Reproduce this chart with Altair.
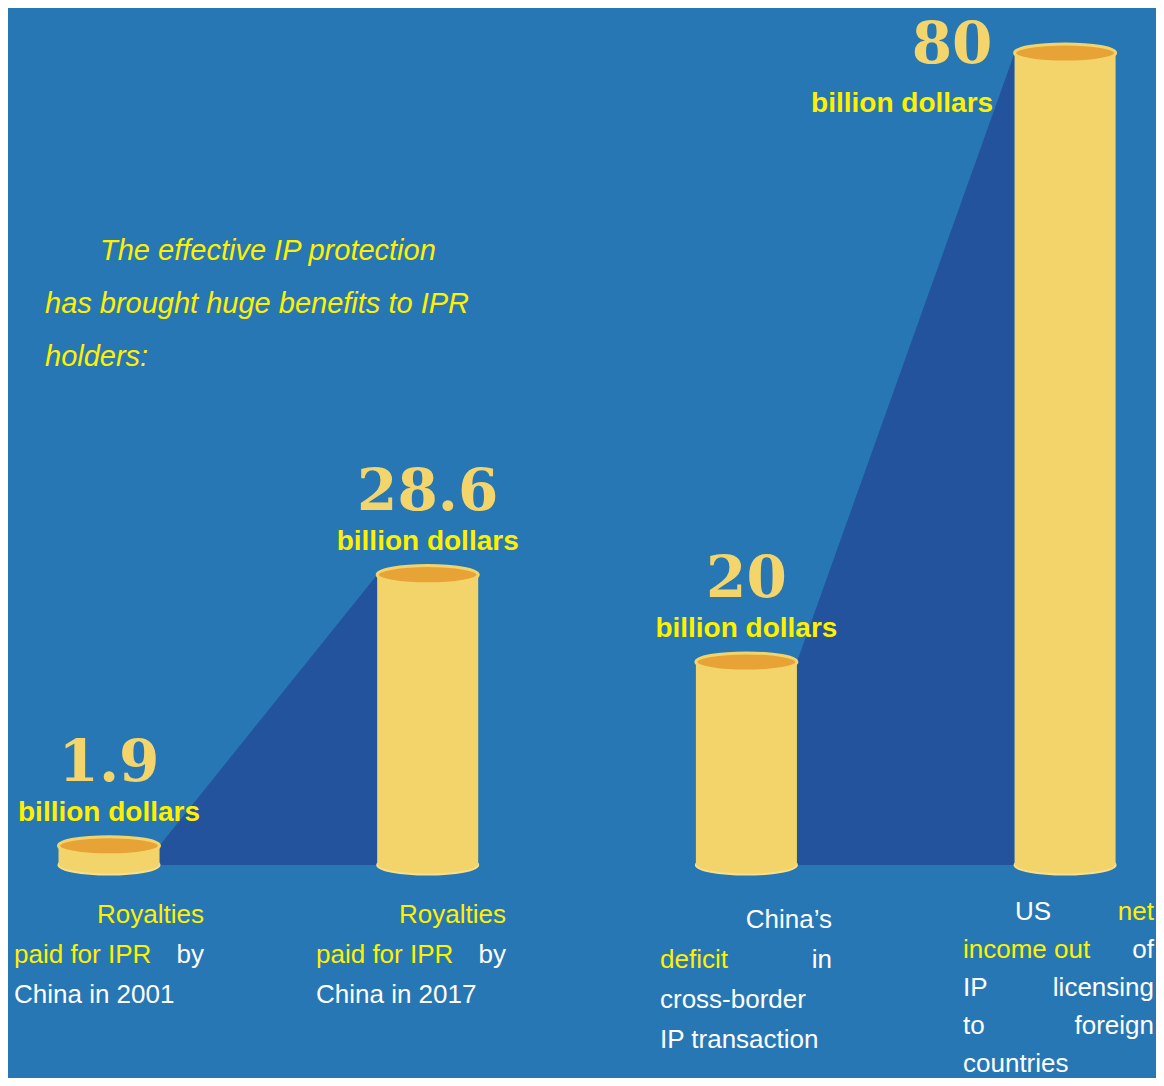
import altair as alt
import pandas as pd

# ---------------- data ----------------
categories = [
    "Royalties paid for IPR by China in 2001",
    "Royalties paid for IPR by China in 2017",
    "China’s deficit in cross-border IP transaction",
    "US net income out of IP licensing to foreign countries",
]
values = [1.9, 28.6, 20, 80]
value_text = ["1.9", "28.6", "20", "80"]
unit_text = "billion dollars"

intro_lines = [
    "The effective IP protection",
    "has brought huge benefits to IPR",
    "holders:",
]

# category label pieces per line: (text, colour key, placement)
label_pieces = [
    [[("Royalties", "y", "r")],
     [("paid for IPR", "y", "l"), ("by", "w", "r")],
     [("China in 2001", "w", "l")]],
    [[("Royalties", "y", "r")],
     [("paid for IPR", "y", "l"), ("by", "w", "r")],
     [("China in 2017", "w", "l")]],
    [[("China’s", "w", "r")],
     [("deficit", "y", "l"), ("in", "w", "r")],
     [("cross-border", "w", "l")],
     [("IP  transaction", "w", "l")]],
    [[("US", "w", "i"), ("net", "y", "r")],
     [("income out", "y", "l"), ("of", "w", "r")],
     [("IP", "w", "l"), ("licensing", "w", "r")],
     [("to", "w", "l"), ("foreign", "w", "r")],
     [("countries", "w", "l")]],
]

# ---------------- style / layout ----------------
W, H = 1148, 1070
OFF = 8
BG = "#2777B4"
SHADOW = "#22539C"
BODY = "#F3D46A"
RIM = "#F7E08C"
TOP = "#E8A336"
NUM = "#F4D56C"
YELLOW = "#FFF000"
WHITE = "#FFFFFF"
COL = {"y": YELLOW, "w": WHITE}

# calibration of the value scales (page pixels)
BAR_X0, BAR_STEP, BAR_W = 109.0, 318.7, 101.0
BASE_Y, PX_PER = 865.0, 10.15
HALF = BAR_W / 2 / BAR_STEP

x_dom = [(OFF - BAR_X0) / BAR_STEP, (OFF + W - BAR_X0) / BAR_STEP]
y_dom = [(BASE_Y - (OFF + H)) / PX_PER, (BASE_Y - OFF) / PX_PER]
xs = alt.Scale(domain=x_dom, nice=False, zero=False)
ys = alt.Scale(domain=y_dom, nice=False, zero=False)

# pixel scales for free text
pxs = alt.Scale(domain=[OFF, OFF + W], nice=False, zero=False)
pys = alt.Scale(domain=[OFF, OFF + H], nice=False, zero=False, reverse=True)

label_left = [14, 316, 660, 963]
label_right = [204, 506, 832, 1154]
label_first = [923, 923, 928, 920]
label_step = [40, 40, 40, 38]
INDENT = 52
intro_x = [100, 45, 45]
intro_y = [260, 313, 366]

ELLIPSE_BOTTOM = "M-1,0A1,0.19,0,1,0,1,0A1,0.19,0,1,0,-1,0Z"
ELLIPSE_TOP = "M-1,0A1,0.18,0,1,0,1,0A1,0.18,0,1,0,-1,0Z"

# ---------------- tables ----------------
bars = pd.DataFrame({
    "i": list(range(len(values))),
    "cat": categories,
    "v": values,
    "lab": value_text,
})
bars["xl"] = bars["i"] - HALF
bars["xr"] = bars["i"] + HALF
bars["base"] = 0.0
bars["unit"] = unit_text

# shadows: from bar 0 to bar 1, and from bar 2 to bar 3
sh_rows = []
for sid, (a, b) in enumerate([(0, 1), (2, 3)]):
    sh_rows.append({"sid": sid, "sx": a + HALF, "sy": values[a], "base": 0.0})
    sh_rows.append({"sid": sid, "sx": b - HALF, "sy": values[b], "base": 0.0})
shadows = pd.DataFrame(sh_rows)

seg_rows = []
for c, lines in enumerate(label_pieces):
    for li, pieces in enumerate(lines):
        for text, ck, pl in pieces:
            if pl == "l":
                x, al = label_left[c], "left"
            elif pl == "i":
                x, al = label_left[c] + INDENT, "left"
            else:
                x, al = label_right[c], "right"
            seg_rows.append({"t": text, "col": COL[ck], "x": x,
                             "y": label_first[c] + li * label_step[c], "al": al})
segs = pd.DataFrame(seg_rows)

intro = pd.DataFrame({"t": intro_lines, "x": intro_x, "y": intro_y})

# ---------------- data layers ----------------
X = alt.X("i:Q", scale=xs, axis=None)

shadow_l = alt.Chart(shadows).mark_area(color=SHADOW, opacity=1, interpolate="linear").encode(
    x=alt.X("sx:Q", scale=xs, axis=None),
    y=alt.Y("sy:Q", scale=ys, axis=None),
    y2="base:Q",
    detail="sid:N",
)

bottom_l = alt.Chart(bars).mark_point(
    shape=ELLIPSE_BOTTOM, size=BAR_W ** 2, filled=True, fill=BODY,
    stroke=RIM, strokeWidth=2, opacity=1,
).encode(x=X, y=alt.Y("base:Q", scale=ys, axis=None))

body_l = alt.Chart(bars).mark_rect(color=BODY).encode(
    x=alt.X("xl:Q", scale=xs, axis=None),
    x2="xr:Q",
    y=alt.Y("v:Q", scale=ys, axis=None),
    y2="base:Q",
)

top_l = alt.Chart(bars).mark_point(
    shape=ELLIPSE_TOP, size=BAR_W ** 2, filled=True, fill=TOP,
    stroke=BODY, strokeWidth=3, opacity=1,
).encode(x=X, y=alt.Y("v:Q", scale=ys, axis=None))

num_common = dict(font="DejaVu Serif", fontWeight="bold", fontSize=58,
                  color=NUM, baseline="middle", align="center")
unit_common = dict(font="Liberation Sans", fontWeight="bold", fontSize=28,
                   color=YELLOW, baseline="middle", align="center")

num_a = alt.Chart(bars).transform_filter("datum.i < 3").mark_text(dy=-82, **num_common).encode(
    x=X, y=alt.Y("v:Q", scale=ys, axis=None), text="lab:N")
num_b = alt.Chart(bars).transform_filter("datum.i == 3").mark_text(dx=-113, dy=-7, **num_common).encode(
    x=X, y=alt.Y("v:Q", scale=ys, axis=None), text="lab:N")
unit_a = alt.Chart(bars).transform_filter("datum.i < 3").mark_text(dy=-33, **unit_common).encode(
    x=X, y=alt.Y("v:Q", scale=ys, axis=None), text="unit:N")
unit_b = alt.Chart(bars).transform_filter("datum.i == 3").mark_text(dx=-163, dy=51, **unit_common).encode(
    x=X, y=alt.Y("v:Q", scale=ys, axis=None), text="unit:N")

data_layer = alt.layer(shadow_l, bottom_l, body_l, top_l, num_a, num_b, unit_a, unit_b)

# ---------------- text layers (pixel space) ----------------
intro_l = alt.Chart(intro).mark_text(
    font="Liberation Sans", fontStyle="italic", fontSize=29, color=YELLOW,
    align="left", baseline="alphabetic",
).encode(x=alt.X("x:Q", scale=pxs, axis=None), y=alt.Y("y:Q", scale=pys, axis=None), text="t:N")

seg_left = alt.Chart(segs).transform_filter("datum.al == 'left'").mark_text(
    font="Liberation Sans", fontSize=26, align="left", baseline="alphabetic",
).encode(x=alt.X("x:Q", scale=pxs, axis=None), y=alt.Y("y:Q", scale=pys, axis=None),
         text="t:N", color=alt.Color("col:N", scale=None))
seg_right = alt.Chart(segs).transform_filter("datum.al == 'right'").mark_text(
    font="Liberation Sans", fontSize=26, align="right", baseline="alphabetic",
).encode(x=alt.X("x:Q", scale=pxs, axis=None), y=alt.Y("y:Q", scale=pys, axis=None),
         text="t:N", color=alt.Color("col:N", scale=None))

text_layer = alt.layer(intro_l, seg_left, seg_right)

chart = alt.layer(data_layer, text_layer).resolve_scale(
    x="independent", y="independent"
).properties(
    width=W, height=H, background=BG, padding=0, autosize=alt.AutoSizeParams(type="none")
).configure_view(stroke=None)

chart.save("out.html", embed_options={"renderer": "svg", "actions": False})
